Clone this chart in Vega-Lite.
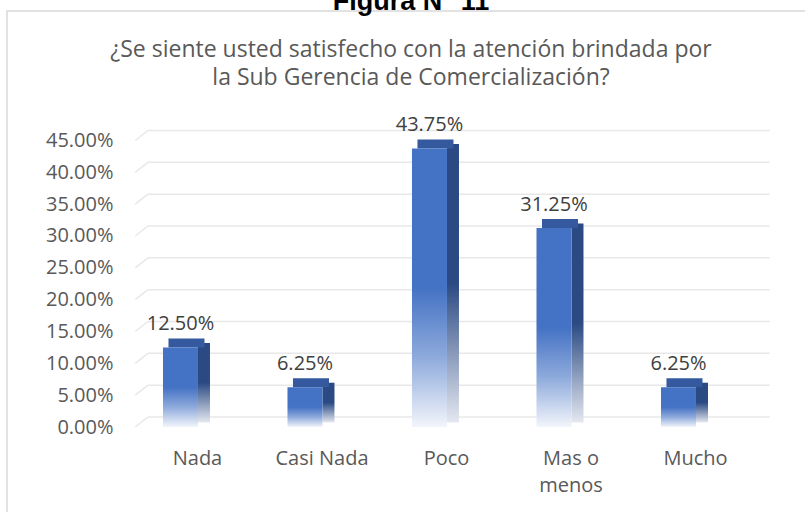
{
  "$schema": "https://vega.github.io/schema/vega-lite/v6.json",
  "autosize": "none",
  "padding": {"left": 7, "top": 11, "right": 0, "bottom": 0},
  "background": "white",
  "width": 830,
  "height": 520,
  "title": {"text": "Figura N° 11", "font": "Liberation Sans", "fontSize": 27, "fontWeight": "bold", "color": "#000000", "anchor": "middle", "frame": "group", "dx": -11, "offset": -80,
    "subtitle": ["¿Se siente usted satisfecho con la atención brindada por", "la Sub Gerencia de Comercialización?"], "subtitleFont": "Open Sans", "subtitleFontSize": 23, "subtitleColor": "#595959", "subtitleLineHeight": 28, "subtitlePadding": 23},
  "config": {"view": {"stroke": "#d9d9d9", "strokeWidth": 1.5}},
  "datasets": {
    "bars": [
      {"cat": "Nada", "pct": 0.125},
      {"cat": "Casi Nada", "pct": 0.0625},
      {"cat": "Poco", "pct": 0.4375},
      {"cat": "Mas o menos", "pct": 0.3125},
      {"cat": "Mucho", "pct": 0.0625}
    ],
    "grid": [{"v": 0}, {"v": 0.05}, {"v": 0.1}, {"v": 0.15}, {"v": 0.2}, {"v": 0.25}, {"v": 0.3}, {"v": 0.35}, {"v": 0.4}, {"v": 0.45}]
  },
  "layer": [
    {
      "data": {"name": "grid"},
      "mark": {"type": "rule", "color": "#e8e8e8", "strokeWidth": 1.5, "yOffset": -10, "y2Offset": -10, "x2Offset": 12},
      "encoding": {
        "x": {"datum": "Nada", "type": "nominal", "bandPosition": 0.102},
        "x2": {"datum": "Mucho", "bandPosition": 1},
        "y": {"field": "v", "type": "quantitative"}
      }
    },
    {
      "data": {"name": "grid"},
      "mark": {"type": "rule", "color": "#e8e8e8", "strokeWidth": 1.5, "y2Offset": -10},
      "encoding": {
        "x": {"datum": "Nada", "type": "nominal", "bandPosition": 0},
        "x2": {"datum": "Nada", "bandPosition": 0.102},
        "y": {"field": "v", "type": "quantitative"},
        "y2": {"field": "v"}
      }
    },
    {
      "data": {"name": "bars"},
      "mark": {"type": "bar", "width": 12, "xOffset": 6.5, "yOffset": -4.5, "y2Offset": -4.5,
        "color": {"gradient": "linear", "x1": 0, "y1": 0, "x2": 0, "y2": 1, "stops": [{"offset": 0, "color": "#2b4a83"}, {"offset": 0.5, "color": "#2b4a83"}, {"offset": 1, "color": "#e4e8f0"}]}},
      "encoding": {
        "x": {"field": "cat", "type": "nominal"},
        "y": {"field": "pct", "type": "quantitative"},
        "y2": {"datum": 0}
      }
    },
    {
      "data": {"name": "bars"},
      "mark": {"type": "bar", "width": 36, "xOffset": -11, "yOffset": -9, "color": "#35599e"},
      "encoding": {
        "x": {"field": "cat", "type": "nominal"},
        "y": {"field": "pct", "type": "quantitative"},
        "y2": {"field": "pct"}
      }
    },
    {
      "data": {"name": "bars"},
      "mark": {"type": "bar", "width": 35, "xOffset": -17,
        "color": {"gradient": "linear", "x1": 0, "y1": 0, "x2": 0, "y2": 1, "stops": [{"offset": 0, "color": "#4472c4"}, {"offset": 0.5, "color": "#4472c4"}, {"offset": 0.75, "color": "#8eaadc"}, {"offset": 1, "color": "#f2f5fb"}]}},
      "encoding": {
        "x": {
          "field": "cat", "type": "nominal",
          "scale": {"domain": ["Nada", "Casi Nada", "Poco", "Mas o menos", "Mucho"], "paddingInner": 0, "paddingOuter": 0.8333, "align": 0.618},
          "axis": {"title": null, "orient": "bottom", "offset": -104, "domain": false, "ticks": false, "labelPadding": 21, "labelFont": "Open Sans", "labelFontSize": 20, "labelColor": "#595959", "labelAngle": 0, "labelAlign": "center", "labelLineHeight": 27, "labelBaseline": "top",
            "labelExpr": "datum.label == 'Mas o menos' ? ['Mas o', 'menos'] : datum.label"}
        },
        "y": {
          "field": "pct", "type": "quantitative",
          "scale": {"domain": [-0.16335, 0.6534], "nice": false, "zero": false},
          "axis": {"title": null, "offset": -112, "domain": false, "ticks": false, "grid": false, "labelPadding": 6, "values": [0, 0.05, 0.1, 0.15, 0.2, 0.25, 0.3, 0.35, 0.4, 0.45], "format": ".2%", "labelFont": "Open Sans", "labelFontSize": 20, "labelColor": "#595959"}
        },
        "y2": {"datum": 0}
      }
    },
    {
      "data": {"name": "bars"},
      "mark": {"type": "text", "xOffset": -17, "dy": -17, "baseline": "alphabetic", "align": "center", "font": "Open Sans", "fontSize": 20, "color": "#404040"},
      "encoding": {
        "x": {"field": "cat", "type": "nominal"},
        "y": {"field": "pct", "type": "quantitative"},
        "text": {"field": "pct", "type": "quantitative", "format": ".2%"}
      }
    }
  ]
}
